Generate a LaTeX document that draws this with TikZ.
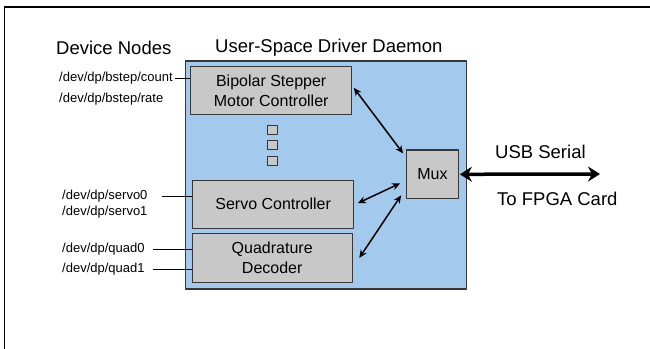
\documentclass[tikz,border=0pt]{standalone}
\usepackage{fontspec}
\setmainfont{Liberation Sans}
\usetikzlibrary{arrows.meta}

\definecolor{daemonblue}{RGB}{163,201,236}
\definecolor{boxgray}{RGB}{200,200,200}
\definecolor{edgegray}{RGB}{55,55,55}

\begin{document}
\begin{tikzpicture}[x=1pt, y=-1pt, line join=round,
    blk/.style={draw=edgegray, line width=1.2pt, fill=boxgray, inner sep=0pt, align=center,
      font=\fontsize{16}{19.3}\selectfont},
    dotbox/.style={draw=edgegray, line width=1pt, fill=boxgray, minimum width=10pt, minimum height=9pt, inner sep=0pt},
    head/.style={anchor=west, inner sep=0pt, font=\fontsize{18.5}{22}\selectfont},
    dev/.style={anchor=west, inner sep=0pt, font=\fontsize{13}{16}\selectfont},
    tie/.style={line width=1pt},
    bus/.style={line width=1.5pt, {Stealth[length=8pt,width=7pt]}-{Stealth[length=8pt,width=7pt]}}]

  %% ════ frame (cut by the page on the right and at the bottom) ════
  \draw[line width=1.5pt] (4.5,360) -- (4.5,7) -- (660,7);

  %% ════ daemon area ════
  \node[draw=edgegray, line width=1.2pt, fill=daemonblue, minimum width=281pt, minimum height=228pt,
    inner sep=0pt] (daemon) at (325.9,175.0) {};

  %% ════ blocks ════
  \node[blk, minimum width=161pt, minimum height=48pt] (bip) at (271.2,90.8) {Bipolar Stepper\\Motor Controller};
  \node[blk, minimum width=161pt, minimum height=48pt] (srv) at (273.2,204.2) {Servo Controller};
  \node[blk, minimum width=160pt, minimum height=49.5pt] (quad) at (272.2,257.9) {Quadrature\\Decoder};
  \node[blk, minimum width=51.5pt, minimum height=48.5pt] (mux) at (432.5,174.3) {Mux};

  % the three little squares (= more blocks)
  \node[dotbox] (dotA) at (272.2,129.5) {};
  \node[dotbox] (dotB) at (272.2,144.5) {};
  \node[dotbox] (dotC) at (272.2,161.2) {};

  %% ════ headings ════
  \node[head] (devttl) at (56,48) {Device Nodes};
  \node[head] (dmnttl) at (215,48) {User-Space Driver Daemon};
  \node[head] (usbttl) at (495,152) {USB Serial};
  \node[head] (fpgattl) at (497,199) {To FPGA Card};

  %% ════ device nodes ════
  \node[dev] (cnt) at (59,78) {/dev/dp/bstep/count};
  \node[dev] (rate) at (59,99) {/dev/dp/bstep/rate};
  \node[dev] (sv0) at (62,196) {/dev/dp/servo0};
  \node[dev] (sv1) at (62,212) {/dev/dp/servo1};
  \node[dev] (qd0) at (62,249) {/dev/dp/quad0};
  \node[dev] (qd1) at (62,269) {/dev/dp/quad1};

  \draw[tie] ([xshift=2pt]cnt.east) -- (cnt.east -| bip.west);
  \draw[tie] ([xshift=14pt]sv0.east) -- (sv0.east -| srv.west);
  \draw[tie] ([xshift=8pt]qd0.east) -- (qd0.east -| quad.west);
  \draw[tie] ([xshift=8pt]qd1.east) -- (qd1.east -| quad.west);

  %% ════ links to the mux ════
  \draw[bus] ([xshift=1.5pt,yshift=3pt]bip.east) -- ([xshift=-3pt,yshift=-4pt]mux.north west);
  \draw[bus] ([xshift=3.5pt,yshift=1pt]srv.east) -- ([xshift=-6pt,yshift=-9pt]mux.west);
  \draw[bus] ([xshift=6.5pt]quad.east) -- ([xshift=-5pt,yshift=-21pt]mux.west);

  % USB link out to the card
  \coordinate (fpga) at (600,174);
  \draw[line width=3.5pt, {Stealth[length=12pt,width=15pt]}-{Stealth[length=12pt,width=15pt]}]
    ([xshift=1pt]mux.east) -- (fpga);

  \pgfresetboundingbox
  \path[use as bounding box] (0,0) rectangle (650,348);
\end{tikzpicture}
\end{document}
